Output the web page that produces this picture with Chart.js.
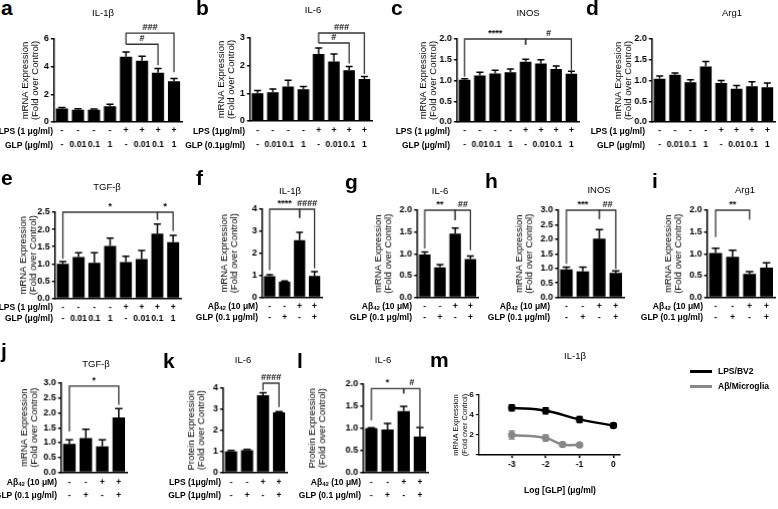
<!DOCTYPE html>
<html>
<head>
<meta charset="utf-8">
<script src="https://cdn.jsdelivr.net/npm/chart.js@4/dist/chart.umd.min.js"></script>
<style>
  body { margin: 0; background: #fff; }
  #fig { position: relative; width: 778px; height: 509px; overflow: hidden; font-family: "Liberation Sans", Arial, sans-serif; color: #000; }
  #fig canvas { position: absolute; }
  .letter { position: absolute; font-size: 21px; font-weight: bold; line-height: 21px; }
  .ttl { position: absolute; font-size: 9.5px; line-height: 10px; transform: translate(-50%, -50%); white-space: nowrap; }
  .row { position: absolute; width: 200px; text-align: right; font-size: 8.5px; font-weight: bold; white-space: nowrap; }
  .row sub { font-size: 6px; vertical-align: -1px; }
  .leg { position: absolute; font-size: 8.5px; font-weight: bold; white-space: nowrap; line-height: 10px; }
  .leg i { display: inline-block; width: 22px; height: 0; border-top: 3px solid #000; vertical-align: middle; margin-right: 6px; }
</style>
</head>
<body>
<div id="fig"></div>
<script>
// ---- data ----
const lpsRow = ['-', '-', '-', '-', '+', '+', '+', '+'];
const glpDoseRow = ['-', '0.01', '0.1', '1', '-', '0.01', '0.1', '1'];
const abRow = ['-', '-', '+', '+'];
const glpRow = ['-', '+', '-', '+'];

const il1bLps = [0.98, 0.88, 0.88, 1.14, 4.72, 4.43, 3.56, 2.95];
const il1bLpsSem = [0.06, 0.08, 0.06, 0.14, 0.34, 0.33, 0.3, 0.2];
const il6Lps = [1.0, 1.04, 1.25, 1.15, 2.42, 2.15, 1.83, 1.52];
const il6LpsSem = [0.1, 0.12, 0.22, 0.1, 0.22, 0.27, 0.14, 0.09];
const inosLps = [1.02, 1.12, 1.17, 1.2, 1.45, 1.41, 1.28, 1.16];
const inosLpsSem = [0.02, 0.08, 0.08, 0.08, 0.06, 0.09, 0.07, 0.06];
const arg1Lps = [1.04, 1.14, 0.96, 1.34, 0.94, 0.8, 0.86, 0.84];
const arg1LpsSem = [0.07, 0.04, 0.06, 0.12, 0.06, 0.08, 0.11, 0.1];
const tgfbLps = [1.0, 1.2, 1.03, 1.52, 1.05, 1.14, 1.88, 1.63];
const tgfbLpsSem = [0.07, 0.12, 0.29, 0.23, 0.17, 0.25, 0.28, 0.2];

const il1bAb = [0.96, 0.71, 2.6, 0.97];
const il1bAbSem = [0.07, 0.03, 0.35, 0.2];
const il6Ab = [0.98, 0.69, 1.46, 0.88];
const il6AbSem = [0.06, 0.06, 0.13, 0.07];
const inosAb = [0.96, 0.89, 2.02, 0.84];
const inosAbSem = [0.08, 0.15, 0.31, 0.07];
const arg1Ab = [1.02, 0.93, 0.54, 0.68];
const arg1AbSem = [0.11, 0.15, 0.05, 0.11];
const tgfbAb = [0.96, 1.15, 0.87, 1.85];
const tgfbAbSem = [0.13, 0.3, 0.22, 0.29];
const il6ProtLps = [1.0, 1.05, 3.67, 2.85];
const il6ProtLpsSem = [0.04, 0.04, 0.12, 0.04];
const il6ProtAb = [1.0, 0.97, 1.39, 0.81];
const il6ProtAbSem = [0.01, 0.14, 0.11, 0.21];

// dose response (panel m)
const logTicks = [-3, -2, -1, 0];
const logGlpLps = [-3, -2, -1, 0];
const lpsBv2 = [4.72, 4.43, 3.56, 2.95];
const lpsBv2Sem = [0.3, 0.3, 0.3, 0.2];
const logGlpAb = [-3, -2, -1.5, -1];
const abMicroglia = [2.0, 1.7, 1.05, 1.0];
const abMicrogliaSem = [0.4, 0.3, 0.15, 0.1];

// significance brackets: [from, to, level, leftEnd, rightEnd, label]
const sigA = [[4, 6, 5.62, 5.62, 4.1, '#'], [4, 7, 6.42, 5.62, 3.6, '###']];
const sigB = [[4, 6, 2.82, 2.82, 2.08, '#'], [4, 7, 3.18, 2.82, 1.7, '###']];
const sigC = [[0, 4, 2.0, 1.09, 1.86, '****'], [4, 7, 2.0, 1.86, 1.25, '#']];
const sigE = [[0, 6, 2.5, 1.15, 2.28, '*'], [6, 7, 2.5, 2.28, 1.95, '*']];
const sigF = [[0, 2, 4.0, 1.24, 3.6, '****'], [2, 3, 4.0, 3.6, 1.32, '####']];
const sigG = [[0, 2, 2.0, 1.12, 1.77, '**'], [2, 3, 2.0, 1.77, 1.08, '##']];
const sigH = [[0, 2, 3.0, 1.15, 2.7, '***'], [2, 3, 3.0, 2.7, 0.98, '##']];
const sigI = [[0, 2, 2.0, 1.38, 1.78, '**']];
const sigJ = [[0, 3, 2.9, 1.37, 2.27, '*']];
const sigK = [[2, 3, 4.24, 3.89, 3.1, '####']];
const sigL = [[0, 2, 1.9, 1.18, 1.79, '*'], [2, 3, 1.9, 1.79, 1.0, '#']];

const FONT = '"Liberation Sans", Arial, sans-serif';
Chart.defaults.font.family = FONT;
Chart.defaults.color = '#000';

const fig = document.getElementById('fig');
const mrnaTitle = ['mRNA Expression', '(Fold over Control)'];
const protTitle = ['Protein Expression', '(Fold over Control)'];
const abLabel = 'A&beta;<sub>42</sub> (10 &mu;M)';

const panels = [
  { letter: 'a', lx: 1, ly: 15, title: 'IL-1β', tc: [103, 13], px: [54, 182], py: [39, 122], max: 6, step: 2, vals: il1bLps, sem: il1bLpsSem, rows: [lpsRow, glpDoseRow], rowY: [131, 145], rowText: ['LPS (1 μg/ml)', 'GLP (μg/ml)'], rowR: 53, tx: 26, yTitle: mrnaTitle, sig: sigA },
  { letter: 'b', lx: 196, ly: 15, title: 'IL-6', tc: [313, 10], px: [250, 372], py: [38, 121], max: 3, step: 1, vals: il6Lps, sem: il6LpsSem, rows: [lpsRow, glpDoseRow], rowY: [131, 145], rowText: ['LPS (1μg/ml)', 'GLP (0.1μg/ml)'], rowR: 245, tx: 222, yTitle: mrnaTitle, sig: sigB },
  { letter: 'c', lx: 391, ly: 15, title: 'INOS', tc: [528, 13], px: [457, 579], py: [39, 122], max: 2, step: 0.5, dec: 1, vals: inosLps, sem: inosLpsSem, rows: [lpsRow, glpDoseRow], rowY: [131, 145], rowText: ['LPS (1 μg/ml)', 'GLP (μg/ml)'], rowR: 450, tx: 424, yTitle: mrnaTitle, sig: sigC },
  { letter: 'd', lx: 586, ly: 15, title: 'Arg1', tc: [732, 13], px: [652, 775], py: [39, 122], max: 2, step: 0.5, dec: 1, vals: arg1Lps, sem: arg1LpsSem, rows: [lpsRow, glpDoseRow], rowY: [131, 145], rowText: ['LPS (1 μg/ml)', 'GLP (μg/ml)'], rowR: 645, tx: 619, yTitle: mrnaTitle, sig: [] },
  { letter: 'e', lx: 1, ly: 185, title: 'TGF-β', tc: [107, 187], px: [55, 181], py: [212, 298], max: 2.5, step: 0.5, dec: 1, vals: tgfbLps, sem: tgfbLpsSem, rows: [lpsRow, glpDoseRow], rowY: [307, 318], rowText: ['LPS (1 μg/ml)', 'GLP (μg/ml)'], rowR: 53, tx: 24, yTitle: mrnaTitle, sig: sigE },
  { letter: 'f', lx: 196, ly: 185, title: 'IL-1β', tc: [290, 191], px: [262, 322], py: [209, 297], max: 4, step: 1, vals: il1bAb, sem: il1bAbSem, rows: [abRow, glpRow], rowY: [306, 317], rowText: [abLabel, 'GLP (0.1 μg/ml)'], rowR: 258, tx: 225, yTitle: mrnaTitle, sig: sigF },
  { letter: 'g', lx: 345, ly: 189, title: 'IL-6', tc: [440, 191], px: [417, 478], py: [210, 297], max: 2, step: 0.5, dec: 1, vals: il6Ab, sem: il6AbSem, rows: [abRow, glpRow], rowY: [306, 317], rowText: [abLabel, 'GLP (0.1 μg/ml)'], rowR: 412, tx: 379, yTitle: mrnaTitle, sig: sigG },
  { letter: 'h', lx: 485, ly: 188, title: 'INOS', tc: [599, 190], px: [558, 624], py: [210, 297], max: 3, step: 0.5, dec: 1, vals: inosAb, sem: inosAbSem, rows: [abRow, glpRow], rowY: [306, 317], rowText: [abLabel, 'GLP (0.1 μg/ml)'], rowR: 550, tx: 520, yTitle: mrnaTitle, sig: sigH },
  { letter: 'i', lx: 652, ly: 188, title: 'Arg1', tc: [745, 190], px: [707, 775], py: [210, 297], max: 2, step: 0.5, dec: 1, vals: arg1Ab, sem: arg1AbSem, rows: [abRow, glpRow], rowY: [306, 317], rowText: [abLabel, 'GLP (0.1 μg/ml)'], rowR: 703, tx: 669, yTitle: mrnaTitle, sig: sigI },
  { letter: 'j', lx: 1, ly: 358, title: 'TGF-β', tc: [96, 364], px: [61, 127], py: [383, 472], max: 3, step: 0.5, dec: 1, vals: tgfbAb, sem: tgfbAbSem, rows: [abRow, glpRow], rowY: [482, 495], rowText: [abLabel, 'GLP (0.1 μg/ml)'], rowR: 57, tx: 25, yTitle: mrnaTitle, sig: sigJ },
  { letter: 'k', lx: 163, ly: 368, title: 'IL-6', tc: [243, 360], px: [223, 287], py: [388, 472], max: 4, step: 1, vals: il6ProtLps, sem: il6ProtLpsSem, rows: [abRow, glpRow], rowY: [482, 495], rowText: ['LPS (1μg/ml)', 'GLP (1μg/ml)'], rowR: 221, tx: 192, yTitle: protTitle, sig: sigK },
  { letter: 'l', lx: 297, ly: 368, title: 'IL-6', tc: [383, 360], px: [363, 428], py: [384, 472], max: 2, step: 0.5, dec: 1, vals: il6ProtAb, sem: il6ProtAbSem, rows: [abRow, glpRow], rowY: [482, 495], rowText: [abLabel, 'GLP (0.1 μg/ml)'], rowR: 361, tx: 313, yTitle: protTitle, sig: sigL }
];

function addDiv(cls, html, css) {
  const d = document.createElement('div');
  d.className = cls;
  d.innerHTML = html;
  d.style.cssText = css;
  fig.appendChild(d);
  return d;
}

function makeCanvas(left, top, w, h) {
  const c = document.createElement('canvas');
  c.width = w;
  c.height = h;
  c.style.cssText = `left:${left}px;top:${top}px;width:${w}px;height:${h}px`;
  fig.appendChild(c);
  return c;
}

// draws SEM bars from each dataset's sem array
const errorBars = {
  id: 'errorBars',
  afterDatasetsDraw(chart) {
    const { ctx, scales: { y } } = chart;
    ctx.save();
    ctx.lineWidth = 1.5;
    chart.data.datasets.forEach((ds, di) => {
      if (!ds.sem) return;
      ctx.strokeStyle = ds.semColor || '#000';
      const meta = chart.getDatasetMeta(di);
      meta.data.forEach((el, i) => {
        const v = ds.data[i];
        const val = typeof v === 'object' ? v.y : v;
        const top = y.getPixelForValue(val + ds.sem[i]);
        const bottom = ds.both ? y.getPixelForValue(val - ds.sem[i]) : el.y;
        const cap = ds.cap || el.width * 0.3;
        ctx.beginPath();
        ctx.moveTo(el.x, bottom);
        ctx.lineTo(el.x, top);
        ctx.moveTo(el.x - cap, top);
        ctx.lineTo(el.x + cap, top);
        if (ds.both) {
          ctx.moveTo(el.x - cap, bottom);
          ctx.lineTo(el.x + cap, bottom);
        }
        ctx.stroke();
      });
    });
    ctx.restore();
  }
};

function bracketPlugin(items) {
  return {
    id: 'brackets',
    afterDatasetsDraw(chart) {
      const { ctx, scales: { x, y } } = chart;
      ctx.save();
      ctx.strokeStyle = '#333';
      ctx.lineWidth = 1.3;
      ctx.fillStyle = '#000';
      ctx.font = 'bold 9px ' + FONT;
      ctx.textAlign = 'center';
      ctx.textBaseline = 'bottom';
      items.forEach(([i, j, lvl, endI, endJ, txt]) => {
        const xi = x.getPixelForValue(i);
        const xj = x.getPixelForValue(j);
        const yl = y.getPixelForValue(lvl);
        ctx.beginPath();
        ctx.moveTo(xi, y.getPixelForValue(endI));
        ctx.lineTo(xi, yl);
        ctx.lineTo(xj, yl);
        ctx.lineTo(xj, y.getPixelForValue(endJ));
        ctx.stroke();
        ctx.fillText(txt, (xi + xj) / 2, yl - 1);
      });
      ctx.restore();
    }
  };
}

function barPanel(p) {
  const tfs = 9.5;
  const left = p.tx - tfs / 2;
  const padT = 24, padR = 4;
  const top = p.py[0] - padT;
  const lh = p.rowY[1] - p.rowY[0];
  const xH = p.rowY[1] + lh / 2 + 3 - p.py[1];
  const w = p.px[1] - left + padR;
  const h = p.py[1] - top + xH;
  const canvas = makeCanvas(left, top, w, h);

  new Chart(canvas, {
    type: 'bar',
    data: {
      labels: p.rows[0].map((v, i) => [v, p.rows[1][i]]),
      datasets: [{
        data: p.vals,
        sem: p.sem,
        backgroundColor: '#000',
        barPercentage: 0.76,
        categoryPercentage: 1
      }]
    },
    options: {
      responsive: false,
      animation: false,
      devicePixelRatio: 1,
      layout: { padding: { top: padT, right: padR, left: 0, bottom: 0 } },
      plugins: { legend: { display: false }, tooltip: { enabled: false } },
      scales: {
        x: {
          grid: { display: false, drawTicks: false },
          border: { color: '#000', width: 1.5 },
          ticks: {
            color: '#000', autoSkip: false, maxRotation: 0,
            padding: p.rowY[0] - p.py[1] - lh / 2,
            font: { size: 8.5, weight: 'bold', lineHeight: lh + 'px' }
          },
          afterFit: s => { s.height = xH; }
        },
        y: {
          min: 0, max: p.max,
          ticks: {
            stepSize: p.step, color: '#000', padding: 2,
            font: { size: 9, weight: 'bold' },
            callback: v => p.dec ? v.toFixed(1) : v
          },
          grid: { drawOnChartArea: false, drawTicks: true, tickLength: 3, color: '#000', lineWidth: 1.5 },
          border: { color: '#000', width: 1.5 },
          title: { display: true, text: p.yTitle, color: '#000', padding: 0, font: { size: tfs, lineHeight: tfs + 'px' } },
          afterFit: s => { s.width = p.px[0] - left; }
        }
      }
    },
    plugins: [errorBars, bracketPlugin(p.sig)]
  });

  addDiv('letter', p.letter, `left:${p.lx}px;top:${p.ly - 18}px`);
  addDiv('ttl', p.title, `left:${p.tc[0]}px;top:${p.tc[1]}px`);
  p.rowText.forEach((t, k) => {
    addDiv('row', t, `left:${p.rowR - 200}px;top:${p.rowY[k] - 6}px;line-height:12px`);
  });
}

panels.forEach(barPanel);

// ---- panel m: dose response ----
(function () {
  const px = [479, 620], py = [395, 455];
  const tfs = 7.5, tx = 456;
  const left = tx - tfs / 2;
  const padT = 20, padR = 6;
  const top = py[0] - padT;
  const xH = 18;
  const w = px[1] - left + padR;
  const h = py[1] - top + xH;
  const canvas = makeCanvas(left, top, w, h);
  new Chart(canvas, {
    type: 'line',
    data: {
      datasets: [
        {
          data: logGlpLps.map((x, i) => ({ x, y: lpsBv2[i] })),
          sem: lpsBv2Sem, both: true, cap: 3,
          borderColor: '#000', backgroundColor: '#000', borderWidth: 2.5,
          pointRadius: 2.5, tension: 0.4
        },
        {
          data: logGlpAb.map((x, i) => ({ x, y: abMicroglia[i] })),
          sem: abMicrogliaSem, semColor: '#888', both: true, cap: 3,
          borderColor: '#888', backgroundColor: '#888', borderWidth: 2.5,
          pointRadius: 2.5, tension: 0.4
        }
      ]
    },
    options: {
      responsive: false,
      animation: false,
      devicePixelRatio: 1,
      layout: { padding: { top: padT, right: padR, left: 0, bottom: 0 } },
      plugins: { legend: { display: false }, tooltip: { enabled: false } },
      scales: {
        x: {
          type: 'linear', min: -3.97, max: 0.18,
          afterBuildTicks: s => { s.ticks = logTicks.map(v => ({ value: v })); },
          grid: { drawOnChartArea: false, drawTicks: true, tickLength: 3, color: '#000', lineWidth: 1.5 },
          border: { color: '#000', width: 1.5 },
          ticks: { color: '#000', padding: 2, font: { size: 8.5, weight: 'bold' } },
          afterFit: s => { s.height = xH; }
        },
        y: {
          min: 0, max: 6,
          ticks: {
            stepSize: 1, color: '#000', padding: 2,
            font: { size: 8, weight: 'bold' },
            callback: v => v === 0 ? '' : v
          },
          grid: { drawOnChartArea: false, drawTicks: true, tickLength: 3, color: '#000', lineWidth: 1.2 },
          border: { color: '#000', width: 1.2 },
          title: { display: true, text: mrnaTitle, color: '#000', padding: 0, font: { size: tfs, lineHeight: tfs + 1 + 'px' } },
          afterFit: s => { s.width = px[0] - left; }
        }
      }
    },
    plugins: [errorBars]
  });

  addDiv('letter', 'm', 'left:430px;top:349px');
  addDiv('ttl', 'IL-1β', 'left:575px;top:356px');
  addDiv('ttl', 'Log [GLP] (μg/ml)', 'left:560px;top:490px;font-weight:bold;font-size:8.5px');
  addDiv('leg', '<i></i>LPS/BV2', 'left:690px;top:366px');
  addDiv('leg', '<i style="border-color:#888"></i>A&beta;/Microglia', 'left:690px;top:381px');
})();
</script>
</body>
</html>
